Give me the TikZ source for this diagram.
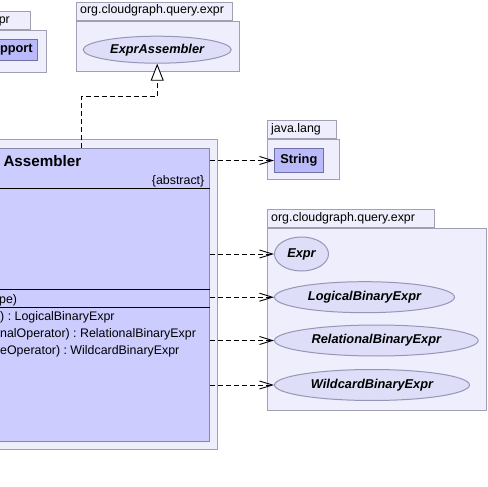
\documentclass[tikz,border=0pt]{standalone}
\usepackage{fontspec}
\setmainfont{Liberation Sans}
\usetikzlibrary{positioning,arrows.meta,shapes}
\usetikzlibrary{calc}
\frenchspacing
\definecolor{pkgfill}{RGB}{238,238,252}
\definecolor{pkgline}{RGB}{160,160,178}
\definecolor{clsfill}{RGB}{204,204,255}
\definecolor{clsline}{RGB}{136,136,168}
\definecolor{reffill}{RGB}{186,186,250}
\definecolor{refline}{RGB}{112,112,168}
\definecolor{ellfill}{RGB}{222,222,248}
\definecolor{ellline}{RGB}{150,150,182}
\newcommand\umlfont{\fontsize{12.4}{14}\selectfont}
\newcommand\boldfont{\fontsize{12.8}{15}\selectfont\bfseries}
\newcommand\titlefont{\fontsize{15.2}{18}\selectfont\bfseries}
\tikzstyle{pkgbody}=[rectangle, draw=pkgline, fill=pkgfill, line width=1pt, inner sep=0pt, anchor=north west]
\tikzstyle{pkgtab}=[rectangle, draw=pkgline, fill=pkgfill, line width=1pt, inner xsep=4pt, inner ysep=2pt, minimum height=18pt, align=left, font=\umlfont]
\tikzstyle{clsbox}=[rectangle, draw=clsline, fill=clsfill, line width=1pt, inner sep=0pt, anchor=north west]
\tikzstyle{refbox}=[rectangle, draw=refline, fill=reffill, line width=1pt, inner sep=0pt, anchor=north west, font=\boldfont]
\tikzstyle{ifcbox}=[ellipse, draw=ellline, fill=ellfill, line width=1pt, inner sep=0pt, anchor=west, font=\boldfont\itshape]
\tikzstyle{member}=[anchor=base west, inner sep=0pt, font=\umlfont]
\tikzstyle{divline}=[draw=black, line width=1pt]
\tikzstyle{dep}=[black, line width=0.9pt, dash pattern=on 5pt off 3pt, -{Straight Barb[length=13pt,width=8pt]}]
\tikzstyle{real}=[black, line width=0.9pt, dash pattern=on 5pt off 3pt, -{Triangle[open,fill=white,length=17pt,width=13pt]}]
\newcommand\pkgnode[8][]{
            \node (#2) [pkgbody, minimum width=#6, minimum height=#7] at (#3,#4) {};
            \node ({#2}t) [pkgtab, text width=#5, above right=0pt and 0pt of {#2}.north west, #1] {\strut #8};
        }

\begin{document}
\begin{tikzpicture}[x=1pt, y=-1pt]

    \clip (0,0) rectangle (488,487);

% PACKAGES
    \pkgnode{suppkg}{-5.7}{30}{27.7pt}{51.4pt}{41.7pt}{pr}
    \pkgnode{exprpkg}{75.7}{20.7}{148.3pt}{163.6pt}{50.3pt}{org.cloudgraph.query.expr}
    \pkgnode{langpkg}{266.7}{139.3}{61pt}{72.6pt}{40pt}{java.lang}
    \pkgnode{epkg}{266.7}{227.7}{159.6pt}{219pt}{182.3pt}{org.cloudgraph.query.expr}
    \node (asmpkg) [pkgbody, minimum width=416.7pt, minimum height=310pt] at (-200,139.3) {};

    \node (sup) [refbox, minimum width=41.7pt, minimum height=21pt] at (-5,39) {pport};
    \node (str) [refbox, minimum width=48.7pt, minimum height=23.4pt, below right=9pt and 7.3pt of langpkg.north west] {String};

    \node (exprasm) [ifcbox, minimum width=148pt, minimum height=27pt] at (82.7,49.7) {ExprAssembler};
    \node (expr) [ifcbox, minimum width=54pt, minimum height=34pt] at (274,254) {Expr};
    \node (logic) [ifcbox, minimum width=180pt, minimum height=31pt] at (274,297.2) {LogicalBinaryExpr};
    \node (relat) [ifcbox, minimum width=203.7pt, minimum height=31pt] at (274,340.5) {RelationalBinaryExpr};
    \node (wild) [ifcbox, minimum width=195pt, minimum height=31pt] at (274,385) {WildcardBinaryExpr};

% CLASS
    \node (asm) [clsbox, minimum width=399pt, minimum height=293pt] at (-190,148.3) {};
    \draw[divline] ($(asm.north west)+(0,40)$) -- ($(asm.north east)+(0,40)$);
    \draw[divline] ($(asm.north west)+(0,140.7)$) -- ($(asm.north east)+(0,140.7)$);
    \draw[divline] ($(asm.north west)+(0,158.7)$) -- ($(asm.north east)+(0,158.7)$);
    \node (asmname) [anchor=base west, inner sep=0pt, font=\titlefont] at (3.3,166.5) {Assembler};
    \node (asmabs) [anchor=base east, inner sep=0pt, font=\umlfont] at (204.5,184.6) {\{abstract\}};
    \node (ctor) [member] at (-1,303) {pe)};
    \node (mlogic) [member] at (0,320) {) : LogicalBinaryExpr};
    \node (mrelat) [member] at (0,337) {nalOperator) : RelationalBinaryExpr};
    \node (mwild) [member] at (0,354) {eOperator) : WildcardBinaryExpr};
%%%% end CLASS

    \coordinate (bend) at (81.7,96.7);
    \draw[real] (bend |- asm.north) -- (bend) -| (exprasm.south);

    \draw[dep] (asm.east |- str.west) -- (str.west);
    \draw[dep] (asm.east |- expr.west) -- (expr.west);
    \draw[dep] (asm.east |- logic.west) -- (logic.west);
    \draw[dep] (asm.east |- relat.west) -- (relat.west);
    \draw[dep] (asm.east |- wild.west) -- (wild.west);

\end{tikzpicture}
\end{document}
